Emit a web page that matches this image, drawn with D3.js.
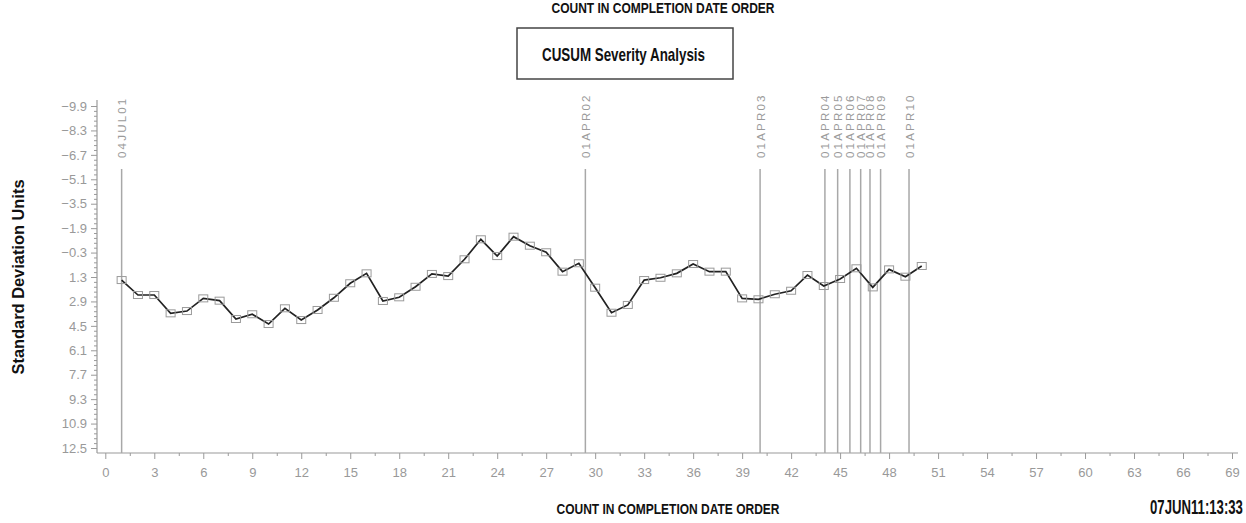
<!DOCTYPE html>
<html><head><meta charset="utf-8">
<script src="https://cdn.jsdelivr.net/npm/d3@7"></script>
<style>
html,body{margin:0;padding:0;background:#fff;overflow:hidden}
svg{display:block}
</style></head>
<body>
<script>
// ---- data ----
const counts = d3.range(1, 51);
const cusum = [1.50,2.48,2.48,3.68,3.53,2.70,2.85,4.05,3.74,4.38,
               3.35,4.12,3.46,2.66,1.71,1.06,2.87,2.63,1.94,1.10,
               1.24,0.14,-1.17,-0.07,-1.34,-0.75,-0.32,0.95,0.40,2.00,
               3.64,3.13,1.50,1.35,1.06,0.45,0.95,0.95,2.70,2.76,
               2.43,2.20,1.17,1.89,1.43,0.73,1.98,0.80,1.28,0.58];
const refLabels = ["04JUL01","01APR02","01APR03","01APR04","01APR05","01APR06","01APR07","01APR08","01APR09","01APR10"];
const refPositions = [1.0,29.4,40.1,44.07,44.85,45.6,46.26,46.83,47.48,49.22];
const yTickValues = [-9.9,-8.3,-6.7,-5.1,-3.5,-1.9,-0.3,1.3,2.9,4.5,6.1,7.7,9.3,10.9,12.5];
const xTickValues = d3.range(0, 70, 3);

const W = 1246, H = 523;
const svg = d3.select("body").append("svg").attr("width", W).attr("height", H);

const x = d3.scaleLinear().domain([0, 69]).range([105.3, 1232]);
const y = d3.scaleLinear().domain([-9.9, 12.5]).range([106, 448]);

const axisColor = "#9a9a9a";
const axisX = 97, axisY = 453;
const boldFont = "'Liberation Sans Narrow','Liberation Sans',Arial,sans-serif";
const lightFont = "'Liberation Sans',Arial,sans-serif";

// top title
svg.append("text").attr("x", 663).attr("y", 13).attr("text-anchor", "middle")
  .attr("font-family", boldFont).attr("font-weight", "bold").attr("font-size", 14)
  .attr("textLength", 223).attr("lengthAdjust", "spacingAndGlyphs")
  .attr("fill", "#111").text("COUNT IN COMPLETION DATE ORDER");

// boxed title
svg.append("rect").attr("x", 517).attr("y", 28).attr("width", 216).attr("height", 51)
  .attr("fill", "none").attr("stroke", "#444").attr("stroke-width", 1.5);
svg.append("text").attr("x", 623.5).attr("y", 61).attr("text-anchor", "middle")
  .attr("font-family", boldFont).attr("font-weight", "bold").attr("font-size", 19)
  .attr("textLength", 163).attr("lengthAdjust", "spacingAndGlyphs")
  .attr("fill", "#111").text("CUSUM Severity Analysis");

// y-axis title
svg.append("text").attr("transform", "translate(24,277) rotate(-90)").attr("text-anchor", "middle")
  .attr("font-family", lightFont).attr("font-weight", "bold").attr("font-size", 16)
  .attr("textLength", 195).attr("lengthAdjust", "spacingAndGlyphs")
  .attr("fill", "#111").text("Standard Deviation Units");

// x-axis title
svg.append("text").attr("x", 668).attr("y", 514).attr("text-anchor", "middle")
  .attr("font-family", boldFont).attr("font-weight", "bold").attr("font-size", 15)
  .attr("textLength", 223).attr("lengthAdjust", "spacingAndGlyphs")
  .attr("fill", "#111").text("COUNT IN COMPLETION DATE ORDER");

// timestamp (horizontally condensed via transform so it fits inside the page)
const ts = svg.append("text")
  .attr("font-family", boldFont).attr("font-weight", "bold").attr("font-size", 21)
  .attr("fill", "#111").text("07JUN11:13:33");
const tsW = ts.node().getComputedTextLength();
const tsScale = 93 / tsW;
ts.attr("transform", `translate(1150,514) scale(${tsScale},1)`);

// y axis
const yAxisG = svg.append("g").attr("transform", `translate(${axisX},0)`);
const yMinor = [];
for (let i = 0; i < yTickValues.length - 1; i++) {
  for (let k = 1; k < 5; k++) yMinor.push(yTickValues[i] + k * 0.32);
}
yAxisG.call(d3.axisLeft(y).tickValues(yMinor).tickSize(3).tickFormat(""))
  .call(g => g.select(".domain").remove())
  .call(g => g.selectAll("line").attr("stroke", axisColor));
yAxisG.append("g").call(d3.axisLeft(y).tickValues(yTickValues).tickSize(6).tickPadding(4)
    .tickFormat(d => d3.format(".1f")(d).replace("-", "\u2212")))
  .call(g => g.select(".domain").remove())
  .call(g => g.selectAll("line").attr("stroke", axisColor))
  .call(g => g.selectAll("text").attr("fill", "#999").attr("font-family", lightFont).attr("font-size", 13));
svg.append("line").attr("x1", axisX).attr("x2", axisX).attr("y1", 100).attr("y2", axisY)
  .attr("stroke", axisColor).attr("stroke-width", 1.2);

// x axis
const xAxisG = svg.append("g").attr("transform", `translate(0,${axisY})`);
xAxisG.call(d3.axisBottom(x).tickValues(d3.range(1.5, 69, 3)).tickSize(3).tickFormat(""))
  .call(g => g.select(".domain").remove())
  .call(g => g.selectAll("line").attr("stroke", axisColor));
xAxisG.append("g").call(d3.axisBottom(x).tickValues(xTickValues).tickSize(6).tickPadding(9))
  .call(g => g.select(".domain").remove())
  .call(g => g.selectAll("line").attr("stroke", axisColor))
  .call(g => g.selectAll("text").attr("fill", "#999").attr("font-family", lightFont).attr("font-size", 13));
svg.append("line").attr("x1", axisX).attr("x2", 1238).attr("y1", axisY).attr("y2", axisY)
  .attr("stroke", axisColor).attr("stroke-width", 1.2);

// reference lines
const refs = refLabels.map((l, i) => ({label: l, pos: refPositions[i]}));
svg.append("g").selectAll("line").data(refs).join("line")
  .attr("x1", d => x(d.pos)).attr("x2", d => x(d.pos))
  .attr("y1", 169).attr("y2", axisY)
  .attr("stroke", "#a8a8a8").attr("stroke-width", 1.5);
svg.append("g").selectAll("text").data(refs).join("text")
  .attr("transform", d => `translate(${x(d.pos) + 4.5},158) rotate(-90)`)
  .attr("font-family", lightFont).attr("font-size", 11.5)
  .attr("letter-spacing", "2.2px")
  .attr("fill", "#9a9a9a").text(d => d.label);

// data line
const pts = counts.map((c, i) => ({c, v: cusum[i]}));
svg.append("path").datum(pts)
  .attr("d", d3.line().x(d => x(d.c)).y(d => y(d.v)))
  .attr("fill", "none").attr("stroke", "#222").attr("stroke-width", 1.7);
svg.append("g").selectAll("rect").data(pts).join("rect")
  .attr("x", d => x(d.c) - 4.5).attr("y", d => y(d.v) - 3.5)
  .attr("width", 9).attr("height", 7)
  .attr("fill", "none").attr("stroke", "#9a9a9a").attr("stroke-width", 1);
</script>
</body></html>
